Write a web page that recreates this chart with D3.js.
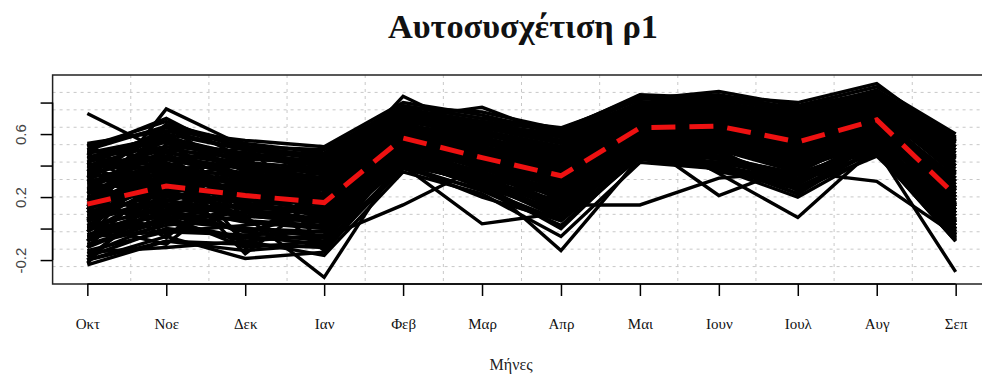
<!DOCTYPE html>
<html><head><meta charset="utf-8">
<script src="https://cdn.jsdelivr.net/npm/d3@7"></script>
<style>body{margin:0;background:#fff;}svg{display:block;}</style>
</head><body>
<svg id="chart" width="982" height="383"></svg>
<script>
const months = ["Οκτ","Νοε","Δεκ","Ιαν","Φεβ","Μαρ","Απρ","Μαι","Ιουν","Ιουλ","Αυγ","Σεπ"];
const yTicks = [-0.2, 0, 0.2, 0.4, 0.6, 0.8];
const yTickLabels = ["-0.2", "", "0.2", "", "0.6", ""];
const meanValues = [0.155, 0.27, 0.21, 0.165, 0.575, 0.45, 0.335, 0.64, 0.65, 0.55, 0.69, 0.21];
const series = [
[0.73,0.48,0.40,0.32,0.66,0.56,0.46,0.72,0.74,0.62,0.76,0.40],
[0.12,0.76,0.52,0.38,0.72,0.62,0.52,0.80,0.80,0.70,0.86,0.56],
[0.05,0.18,0.08,-0.31,0.46,0.32,0.22,0.60,0.56,0.46,0.62,0.12],
[0.00,0.04,-0.06,-0.06,0.15,0.40,0.28,0.50,0.55,0.45,0.56,0.08],
[0.10,0.22,0.12,0.06,0.50,0.36,0.15,0.15,0.32,0.36,0.30,-0.04],
[0.20,0.30,0.25,0.15,0.55,0.48,0.35,0.55,0.50,0.42,0.50,-0.275],
[0.30,0.35,0.28,0.20,0.62,0.50,0.40,0.62,0.35,0.07,0.52,0.18],
[0.25,0.32,0.30,0.22,0.58,0.52,0.42,0.56,0.21,0.40,0.60,0.25],
[-0.05,0.10,0.05,0.00,0.40,0.30,-0.14,0.45,0.50,0.40,0.58,0.05],
[0.15,0.25,0.20,0.10,0.40,0.03,0.10,0.50,0.55,0.48,0.62,0.15],
[0.35,0.45,0.38,0.30,0.84,0.60,0.48,0.75,0.78,0.68,0.80,0.45],
[0.40,0.55,0.48,0.42,0.70,0.77,0.58,0.78,0.80,0.72,0.82,0.50],
[0.45,0.60,0.50,0.45,0.76,0.68,0.62,0.85,0.83,0.75,0.88,0.58],
[0.50,0.65,0.54,0.48,0.78,0.70,0.64,0.82,0.87,0.78,0.90,0.60],
[0.42,0.58,0.45,0.40,0.74,0.66,0.60,0.80,0.84,0.80,0.92,0.55],
[-0.23,-0.08,-0.10,-0.12,0.38,0.25,0.05,0.45,0.40,0.30,0.48,-0.08],
[-0.20,-0.05,-0.19,-0.15,0.42,0.28,0.00,0.48,0.45,0.35,0.52,-0.05],
[-0.15,-0.12,-0.08,-0.17,0.36,0.22,-0.05,0.42,0.38,0.25,0.46,-0.02],
[0.54,0.62,0.56,0.52,0.80,0.72,0.60,0.83,0.85,0.76,0.86,0.57],
[0.52,0.68,0.50,0.47,0.77,0.74,0.63,0.84,0.82,0.77,0.87,0.52],
[0.20,0.30,0.25,0.20,0.60,0.45,0.35,0.65,0.66,0.55,0.70,0.25],
[0.10,0.22,0.18,0.12,0.55,0.40,0.30,0.60,0.62,0.50,0.66,0.18],
[0.30,0.40,0.32,0.28,0.65,0.55,0.42,0.70,0.72,0.62,0.76,0.35],
[0.00,0.15,0.10,0.05,0.50,0.35,0.22,0.58,0.58,0.48,0.64,0.10],
[0.25,0.50,0.30,0.25,0.62,0.50,0.40,0.68,0.70,0.60,0.74,0.30],
[-0.10,0.05,0.00,-0.05,0.45,0.30,0.15,0.52,0.55,0.42,0.60,0.00],
[0.15,0.35,0.22,0.15,0.58,0.42,0.30,0.62,0.64,0.52,0.68,0.20],
[0.35,0.28,0.35,0.30,0.66,0.58,0.45,0.72,0.70,0.58,0.72,0.40],
[0.05,0.40,0.15,0.08,0.52,0.38,0.28,0.62,0.60,0.50,0.70,0.15],
[0.40,0.20,0.28,0.25,0.60,0.52,0.38,0.66,0.68,0.56,0.72,0.32],
[-0.18,0.00,-0.05,-0.10,0.40,0.20,0.05,0.48,0.50,0.38,0.55,-0.06],
[0.22,0.45,0.35,0.30,0.68,0.50,0.35,0.70,0.74,0.64,0.78,0.42],
[0.48,0.55,0.42,0.38,0.72,0.65,0.55,0.76,0.78,0.70,0.80,0.50],
[0.12,0.10,0.15,0.18,0.56,0.45,0.32,0.64,0.62,0.52,0.66,0.22],
[0.28,0.38,0.40,0.35,0.64,0.55,0.48,0.74,0.76,0.66,0.80,0.46],
[-0.02,0.25,0.05,0.02,0.48,0.34,0.25,0.56,0.52,0.44,0.58,0.06],
[0.18,0.28,0.20,0.00,0.52,0.40,0.18,0.58,0.60,0.46,0.64,0.12],
[0.08,0.15,0.22,0.25,0.62,0.48,0.38,0.66,0.68,0.58,0.72,0.28],
[0.38,0.50,0.45,0.40,0.70,0.62,0.52,0.76,0.80,0.72,0.84,0.52],
[-0.08,0.12,-0.02,0.10,0.44,0.26,0.12,0.54,0.56,0.44,0.60,0.02],
[0.32,0.42,0.25,0.22,0.60,0.45,0.32,0.64,0.66,0.54,0.68,0.26],
[0.02,0.30,0.32,0.18,0.56,0.42,0.26,0.60,0.60,0.48,0.66,0.14],
[0.45,0.52,0.48,0.36,0.74,0.60,0.50,0.72,0.76,0.66,0.78,0.48],
[-0.12,0.08,-0.12,-0.08,0.46,0.32,0.08,0.50,0.52,0.40,0.56,-0.03],
[0.26,0.18,0.10,0.12,0.54,0.38,0.24,0.60,0.58,0.46,0.62,0.16],
[0.50,0.70,0.44,0.44,0.76,0.64,0.56,0.78,0.82,0.74,0.84,0.54],
[0.16,0.05,0.20,0.15,0.56,0.46,0.34,0.66,0.64,0.54,0.70,0.24],
[0.36,0.60,0.36,0.26,0.64,0.54,0.44,0.70,0.72,0.60,0.74,0.36],
[-0.05,-0.02,0.02,0.08,0.42,0.28,0.18,0.54,0.54,0.42,0.58,0.04],
[0.44,0.40,0.52,0.46,0.72,0.68,0.58,0.80,0.78,0.74,0.82,0.56],
[0.05,0.20,0.25,0.28,0.64,0.50,0.40,0.68,0.66,0.56,0.72,0.30],
[0.22,0.36,0.30,0.32,0.60,0.56,0.46,0.70,0.70,0.62,0.74,0.38],
[-0.10,0.02,0.08,0.04,0.48,0.36,0.20,0.56,0.58,0.46,0.62,0.08],
[0.34,0.48,0.42,0.34,0.70,0.58,0.46,0.74,0.74,0.64,0.78,0.44],
[0.12,0.32,0.26,0.22,0.58,0.44,0.36,0.64,0.64,0.54,0.70,0.22],
[-0.14,-0.02,-0.04,-0.02,0.44,0.30,0.10,0.52,0.50,0.40,0.56,-0.01],
[0.48,0.58,0.46,0.42,0.74,0.66,0.56,0.78,0.80,0.72,0.84,0.55],
[0.02,0.12,0.14,0.10,0.52,0.38,0.24,0.58,0.62,0.50,0.66,0.12],
[0.28,0.26,0.22,0.18,0.60,0.46,0.34,0.66,0.68,0.56,0.70,0.28],
[0.18,0.44,0.34,0.24,0.62,0.52,0.42,0.70,0.72,0.60,0.76,0.34],
[-0.20,-0.08,-0.14,-0.10,0.40,0.24,0.02,0.46,0.46,0.34,0.50,-0.07],
[0.40,0.46,0.38,0.32,0.68,0.60,0.50,0.72,0.76,0.66,0.80,0.48],
[0.08,0.24,0.12,0.14,0.54,0.42,0.28,0.62,0.62,0.52,0.68,0.20],
[0.30,0.34,0.36,0.38,0.66,0.56,0.44,0.72,0.74,0.64,0.76,0.40],
[-0.06,0.06,0.10,0.06,0.50,0.34,0.20,0.56,0.56,0.46,0.62,0.10],
[0.52,0.64,0.52,0.50,0.78,0.70,0.62,0.82,0.84,0.76,0.86,0.58],
[0.14,0.16,0.08,0.04,0.48,0.34,0.22,0.58,0.58,0.48,0.64,0.14],
[0.24,0.40,0.28,0.26,0.62,0.48,0.38,0.66,0.68,0.58,0.72,0.32],
[0.00,0.08,0.00,-0.02,0.46,0.32,0.16,0.54,0.54,0.44,0.60,0.04],
[0.36,0.52,0.40,0.36,0.70,0.60,0.50,0.74,0.76,0.68,0.80,0.46],
[0.10,0.28,0.18,0.16,0.56,0.44,0.30,0.62,0.64,0.52,0.68,0.18],
[0.46,0.36,0.44,0.42,0.72,0.62,0.52,0.76,0.78,0.70,0.82,0.50],
[-0.16,0.04,-0.08,-0.04,0.42,0.28,0.08,0.50,0.52,0.40,0.56,-0.04],
[0.20,0.22,0.16,0.10,0.54,0.40,0.26,0.60,0.60,0.50,0.66,0.14],
[0.32,0.56,0.46,0.40,0.72,0.64,0.54,0.78,0.80,0.70,0.82,0.52],
[0.04,0.34,0.24,0.20,0.58,0.46,0.32,0.64,0.66,0.54,0.70,0.24],
[0.42,0.62,0.50,0.44,0.76,0.66,0.58,0.80,0.82,0.74,0.86,0.56],
[-0.04,0.14,0.04,0.00,0.46,0.30,0.14,0.54,0.56,0.42,0.60,0.02],
[0.26,0.30,0.20,0.20,0.58,0.48,0.36,0.66,0.66,0.56,0.72,0.26],
[0.16,0.38,0.28,0.28,0.64,0.52,0.40,0.68,0.70,0.60,0.74,0.36],
[0.50,0.44,0.34,0.28,0.66,0.52,0.30,0.58,0.52,0.38,0.62,0.20],
[-0.18,0.18,0.26,0.36,0.70,0.56,0.40,0.50,0.44,0.30,0.56,0.00],
[0.42,0.10,-0.02,-0.08,0.50,0.40,0.22,0.46,0.40,0.26,0.50,-0.06],
[-0.08,0.54,0.44,0.12,0.60,0.30,0.06,0.52,0.48,0.30,0.54,0.02],
[0.34,-0.04,0.18,0.38,0.74,0.62,0.44,0.60,0.56,0.44,0.66,0.30],
[0.10,0.60,0.10,0.30,0.58,0.44,0.20,0.48,0.42,0.22,0.52,-0.02],
[-0.22,0.30,0.42,0.02,0.44,0.50,0.36,0.56,0.46,0.32,0.58,0.06],
[0.46,0.26,-0.06,0.26,0.62,0.36,0.16,0.44,0.38,0.20,0.48,-0.08],
[0.02,-0.10,0.30,0.44,0.72,0.58,0.28,0.62,0.58,0.46,0.64,0.26],
[0.30,0.66,0.54,0.04,0.52,0.46,0.30,0.54,0.36,0.28,0.54,0.10],
[-0.12,0.36,-0.16,0.22,0.56,0.32,0.12,0.58,0.50,0.24,0.50,0.08],
[0.38,0.08,0.48,-0.12,0.48,0.54,0.44,0.64,0.54,0.36,0.60,0.22],
[0.18,0.58,0.06,0.42,0.64,0.26,0.24,0.52,0.44,0.34,0.54,0.12],
[0.54,0.22,0.34,0.10,0.58,0.64,0.38,0.60,0.48,0.28,0.58,0.18],
[-0.02,0.46,0.16,0.34,0.68,0.38,0.20,0.46,0.42,0.32,0.52,0.00],
[0.24,-0.06,0.38,0.06,0.46,0.60,0.50,0.56,0.40,0.22,0.56,0.04],
[0.06,0.50,-0.10,0.28,0.60,0.42,0.10,0.50,0.46,0.26,0.50,-0.04],
[0.48,0.14,0.28,-0.14,0.50,0.34,0.26,0.62,0.52,0.40,0.62,0.20],
[-0.20,0.24,0.36,0.16,0.54,0.48,0.34,0.48,0.38,0.30,0.56,0.10],
[0.14,0.66,0.30,0.46,0.74,0.50,0.36,0.58,0.50,0.36,0.60,0.16]
];
const titleText = "Αυτοσυσχέτιση ρ1";
const xTitle = "Μήνες";

const svg = d3.select("#chart");
const plot = {left: 52.6, right: 990.4, top: 75, bottom: 284};
const x = d3.scaleLinear().domain([0.56, 12.44]).range([plot.left, plot.right]);
const y = d3.scaleLinear().domain([-0.352, 0.975]).range([plot.bottom, plot.top]);

// grid: 12 x 12 equal divisions of the plot region
const gx = d3.range(1, 12).map(k => 0.56 + k * (12.44 - 0.56) / 12);
const gy = d3.range(1, 12).map(k => -0.352 + k * (0.975 + 0.352) / 12);
const grid = svg.append("g").attr("stroke", "#c8c8c8").attr("stroke-width", 1).attr("stroke-dasharray", "3,4");
grid.selectAll("line.v").data(gx).join("line").attr("class","v")
  .attr("x1", d => x(d)).attr("x2", d => x(d)).attr("y1", plot.top).attr("y2", plot.bottom);
grid.selectAll("line.h").data(gy).join("line").attr("class","h")
  .attr("x1", plot.left).attr("x2", plot.right).attr("y1", d => y(d)).attr("y2", d => y(d));

const line = d3.line().x((d, i) => x(i + 1)).y(d => y(d));
svg.append("g").selectAll("path").data(series).join("path")
  .attr("d", line).attr("fill", "none").attr("stroke", "#000").attr("stroke-width", 3.4)
  .attr("stroke-linejoin", "miter");

svg.append("path").datum(meanValues).attr("d", line).attr("fill", "none")
  .attr("stroke", "#ee1111").attr("stroke-width", 5).attr("stroke-dasharray", "24,14");

// box
svg.append("rect").attr("x", plot.left).attr("y", plot.top)
  .attr("width", plot.right - plot.left).attr("height", plot.bottom - plot.top)
  .attr("fill", "none").attr("stroke", "#222").attr("stroke-width", 1.5);

// x axis
const xAxis = d3.axisBottom(x).tickValues(d3.range(1, 13)).tickSize(12).tickFormat(d => months[d - 1]).tickPadding(22);
const gxA = svg.append("g").attr("transform", `translate(0,${plot.bottom})`).call(xAxis);
gxA.select(".domain").attr("d", `M${x(1)},0H${x(12)}`).attr("stroke-width", 1.5);
gxA.selectAll(".tick line").attr("stroke-width", 1.5);
gxA.selectAll("text").attr("font-family", "Liberation Serif, serif").attr("font-size", 15).attr("fill", "#111");

// y axis
const yAxis = d3.axisLeft(y).tickValues(yTicks).tickSize(12).tickFormat((d, i) => yTickLabels[i]);
const gyA = svg.append("g").attr("transform", `translate(${plot.left},0)`).call(yAxis);
gyA.select(".domain").attr("d", `M0,${y(-0.2)}V${y(0.8)}`).attr("stroke-width", 1.5);
gyA.selectAll(".tick line").attr("stroke-width", 1.5);
gyA.selectAll("text").attr("font-family", "Liberation Sans, Arial, sans-serif").attr("font-size", 15)
  .attr("fill", "#444").attr("text-anchor", "middle").attr("x", null)
  .attr("transform", `translate(-32,0) rotate(-90)`).attr("dy", "0.35em");

// titles
const t = svg.append("text").attr("x", 523).attr("y", 38).attr("text-anchor", "middle")
  .attr("font-family", "Liberation Serif, serif").attr("font-weight", "bold").attr("font-size", 28)
  .attr("fill", "#111").text(titleText);
const tw = t.node().getComputedTextLength();
t.attr("font-size", 28 * 270 / tw);

const xt = svg.append("text").attr("x", 511).attr("y", 370).attr("text-anchor", "middle")
  .attr("font-family", "Liberation Serif, serif").attr("font-size", 18).attr("fill", "#222").text(xTitle);
const xw = xt.node().getComputedTextLength();
xt.attr("font-size", 18 * 43 / xw);
</script>
</body></html>
